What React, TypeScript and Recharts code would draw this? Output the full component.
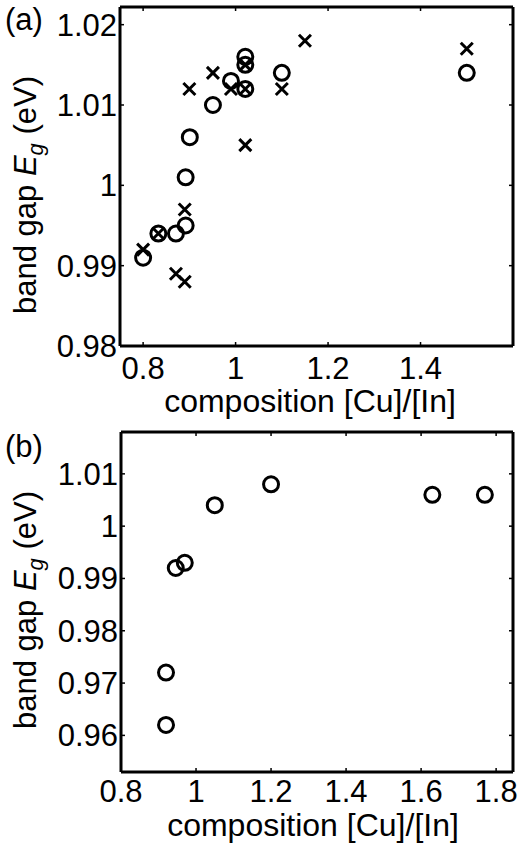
import React from "react";
import { ScatterChart, Scatter, XAxis, YAxis, Label } from "recharts";

// panel (a): two sets of measurements
const aCircleX = [0.8, 0.833, 0.871, 0.892, 0.892, 0.901, 0.951, 0.99, 1.021, 1.021, 1.021, 1.1, 1.5];
const aCircleY = [0.991, 0.994, 0.994, 0.995, 1.001, 1.006, 1.01, 1.013, 1.016, 1.015, 1.012, 1.014, 1.014];
const aCrossX = [0.8, 0.833, 0.871, 0.89, 0.89, 0.9, 0.951, 0.99, 1.021, 1.021, 1.021, 1.1, 1.15, 1.5];
const aCrossY = [0.992, 0.994, 0.989, 0.988, 0.997, 1.012, 1.014, 1.012, 1.005, 1.012, 1.015, 1.012, 1.018, 1.017];

// panel (b)
const bX = [0.92, 0.92, 0.946, 0.97, 1.05, 1.2, 1.63, 1.77];
const bY = [0.972, 0.962, 0.992, 0.993, 1.004, 1.008, 1.006, 1.006];

const aXTicks = [0.8, 1, 1.2, 1.4];
const aYTicks = [0.98, 0.99, 1, 1.01, 1.02];
const bXTicks = [0.8, 1, 1.2, 1.4, 1.6, 1.8];
const bYTicks = [0.96, 0.97, 0.98, 0.99, 1, 1.01];

const FONT = "'Liberation Sans', Arial, sans-serif";
const tickStyle = { fill: "#000", fontSize: 31, fontFamily: FONT };
const axisLine = { stroke: "#000", strokeWidth: 3 };
const tickLine = { stroke: "#000", strokeWidth: 1.5 };
const blank = () => "";

const zip = (xs: number[], ys: number[]) => xs.map((x, i) => ({ x, y: ys[i] }));

const Ring = (p: any) => (
  <circle cx={p.cx} cy={p.cy} r={7.5} fill="none" stroke="#000" strokeWidth={3} />
);

const Cross = (p: any) => {
  const { cx, cy } = p;
  const s = 6;
  return (
    <path
      d={`M${cx - s},${cy - s}L${cx + s},${cy + s}M${cx - s},${cy + s}L${cx + s},${cy - s}`}
      stroke="#000"
      strokeWidth={3}
      fill="none"
    />
  );
};

// keeps the mirrored box axes tied to data so they get drawn
const Nothing = () => <g />;

const yLabel = (tag: string, cy: number, tagY: number) => () => (
  <g fontFamily={FONT} fill="#000">
    <text x={5} y={tagY} fontSize={31}>{tag}</text>
    <text x={36} y={cy} fontSize={31} textAnchor="middle" transform={`rotate(-90, 36, ${cy})`}>
      band gap <tspan fontStyle="italic">E</tspan>
      <tspan fontStyle="italic" fontSize={22} dy={7}>g</tspan>
      <tspan dy={-7}> (eV)</tspan>
    </text>
  </g>
);

const xLabel = (cx: number, y: number) => () => (
  <text x={cx} y={y} fontSize={32} fontFamily={FONT} fill="#000" textAnchor="middle">
    composition [Cu]/[In]
  </text>
);

export default function App() {
  return (
    <div style={{ position: "absolute", left: 0, top: 0, width: 518, height: 847, background: "#fff" }}>
      <div style={{ position: "absolute", left: 0, top: 0 }}>
        <ScatterChart width={518} height={420} margin={{ top: 6, right: 4, left: 0, bottom: 0 }}>
          <XAxis
            dataKey="x"
            type="number"
            domain={[0.75, 1.6]}
            ticks={aXTicks}
            interval={0}
            allowDataOverflow
            height={74}
            tick={tickStyle}
            tickSize={-4}
            tickMargin={15}
            axisLine={axisLine}
            tickLine={tickLine}
          >
            <Label content={xLabel(310, 412)} />
          </XAxis>
          <XAxis xAxisId="top" dataKey="x" orientation="top" type="number" domain={[0.75, 1.6]} ticks={aXTicks}
            interval={0} allowDataOverflow height={1} tickFormatter={blank} tickSize={-4}
            axisLine={axisLine} tickLine={tickLine} />
          <YAxis
            dataKey="y"
            type="number"
            domain={[0.98, 1.0222]}
            ticks={aYTicks}
            interval={0}
            allowDataOverflow
            width={120}
            tick={tickStyle}
            tickSize={-4}
            tickMargin={7}
            axisLine={axisLine}
            tickLine={tickLine}
          >
            <Label content={yLabel("(a)", 195, 30)} />
          </YAxis>
          <YAxis yAxisId="right" dataKey="y" orientation="right" type="number" domain={[0.98, 1.0222]} ticks={aYTicks}
            interval={0} allowDataOverflow width={1} tickFormatter={blank} tickSize={-4}
            axisLine={axisLine} tickLine={tickLine} />
          <Scatter data={zip(aCircleX, aCircleY)} shape={Ring} isAnimationActive={false} />
          <Scatter data={zip(aCrossX, aCrossY)} shape={Cross} isAnimationActive={false} />
          <Scatter data={zip(aCircleX, aCircleY)} xAxisId="top" yAxisId="right" shape={Nothing}
            legendType="none" isAnimationActive={false} />
        </ScatterChart>
      </div>
      <div style={{ position: "absolute", left: 0, top: 420 }}>
        <ScatterChart width={518} height={427} margin={{ top: 11, right: 4, left: 0, bottom: 0 }}>
          <XAxis
            dataKey="x"
            type="number"
            domain={[0.8, 1.845]}
            ticks={bXTicks}
            interval={0}
            allowDataOverflow
            height={75}
            tick={tickStyle}
            tickSize={-4}
            tickMargin={12}
            axisLine={axisLine}
            tickLine={tickLine}
          >
            <Label content={xLabel(313, 416)} />
          </XAxis>
          <XAxis xAxisId="top" dataKey="x" orientation="top" type="number" domain={[0.8, 1.845]} ticks={bXTicks}
            interval={0} allowDataOverflow height={1} tickFormatter={blank} tickSize={-4}
            axisLine={axisLine} tickLine={tickLine} />
          <YAxis
            dataKey="y"
            type="number"
            domain={[0.953, 1.018]}
            ticks={bYTicks}
            interval={0}
            allowDataOverflow
            width={121}
            tick={tickStyle}
            tickSize={-4}
            tickMargin={7}
            axisLine={axisLine}
            tickLine={tickLine}
          >
            <Label content={yLabel("(b)", 190, 37)} />
          </YAxis>
          <YAxis yAxisId="right" dataKey="y" orientation="right" type="number" domain={[0.953, 1.018]} ticks={bYTicks}
            interval={0} allowDataOverflow width={1} tickFormatter={blank} tickSize={-4}
            axisLine={axisLine} tickLine={tickLine} />
          <Scatter data={zip(bX, bY)} shape={Ring} isAnimationActive={false} />
          <Scatter data={zip(bX, bY)} xAxisId="top" yAxisId="right" shape={Nothing}
            legendType="none" isAnimationActive={false} />
        </ScatterChart>
      </div>
    </div>
  );
}
